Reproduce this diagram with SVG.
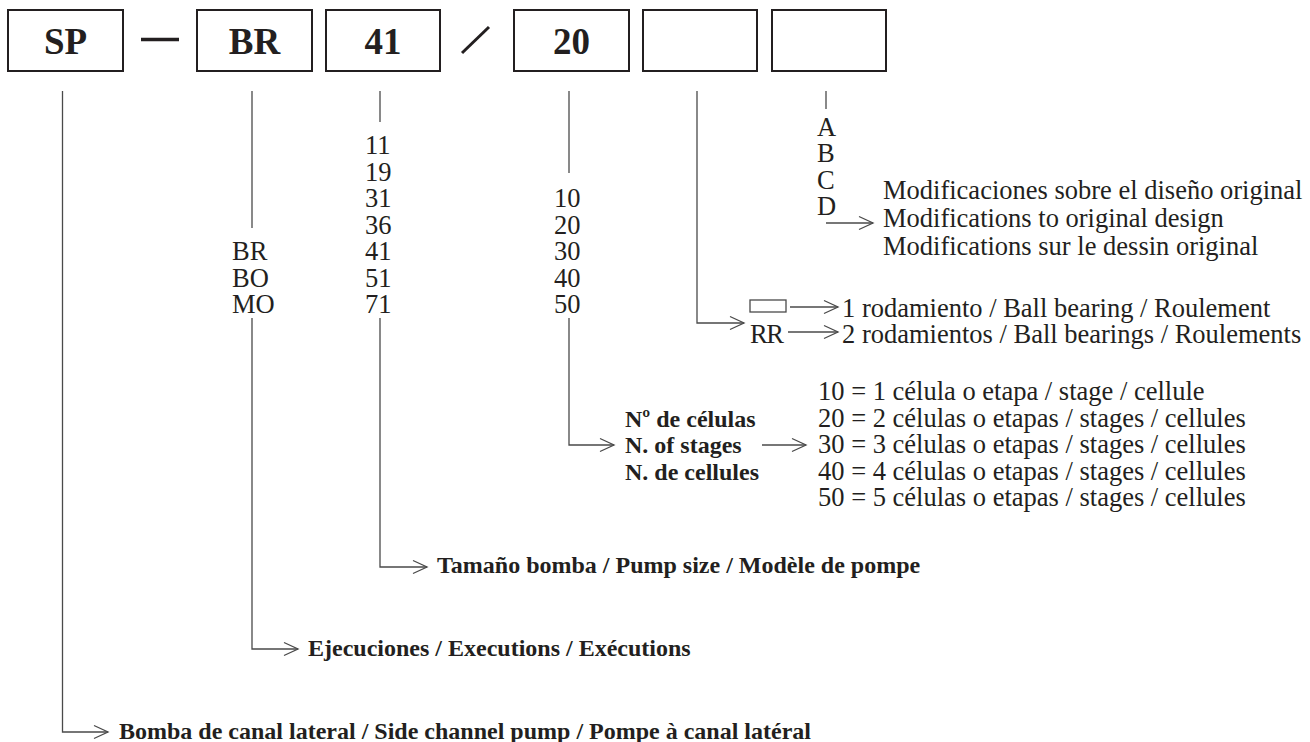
<svg xmlns="http://www.w3.org/2000/svg" width="1310" height="742" viewBox="0 0 1310 742">
<defs>
<style>
.box{fill:#fff;stroke:#231f20;stroke-width:2}
.bt{font-family:"Liberation Serif","Times New Roman",serif;font-weight:bold;font-size:37px;fill:#231f20;text-anchor:middle}
.t{font-family:"Liberation Serif","Times New Roman",serif;font-size:26.5px;fill:#231f20}
.b{font-family:"Liberation Serif","Times New Roman",serif;font-weight:bold;font-size:24px;fill:#231f20}
.ln{fill:none;stroke:#4a4a4a;stroke-width:1.3}
.ar{fill:none;stroke:#4a4a4a;stroke-width:1.3;marker-end:url(#ah)}
</style>
<marker id="ah" markerUnits="userSpaceOnUse" markerWidth="18" markerHeight="16" viewBox="0 0 18 16" refX="16" refY="8" orient="auto">
<path d="M2,1.5 L16,8 L2,14.5" fill="none" stroke="#4a4a4a" stroke-width="1.3"/>
</marker>
</defs>
<rect width="1310" height="742" fill="#fff"/>

<g id="box-sp"><rect class="box" x="8" y="10" width="115" height="61"/><text class="bt" x="65.5" y="54">SP</text></g>
<g id="dash"><line x1="141" y1="39.5" x2="179" y2="39.5" stroke="#231f20" stroke-width="3.5"/></g>
<g id="box-br"><rect class="box" x="197" y="10" width="115" height="61"/><text class="bt" x="254.5" y="54">BR</text></g>
<g id="box-41"><rect class="box" x="326" y="10" width="114" height="61"/><text class="bt" x="383" y="54">41</text></g>
<g id="slash"><line x1="462" y1="53" x2="489" y2="27" stroke="#231f20" stroke-width="3"/></g>
<g id="box-20"><rect class="box" x="514" y="10" width="115" height="61"/><text class="bt" x="571.5" y="54">20</text></g>
<g id="box-6"><rect class="box" x="643" y="10" width="114" height="61"/></g>
<g id="box-7"><rect class="box" x="772" y="10" width="114" height="61"/></g>

<g id="connectors">
<path class="ar" d="M62.5,91 V732 H108"/>
<line class="ln" x1="252" y1="91" x2="252" y2="228"/>
<path class="ar" d="M252,318 V649 H298"/>
<line class="ln" x1="380" y1="91" x2="380" y2="122"/>
<path class="ar" d="M380,318 V567 H427"/>
<line class="ln" x1="569" y1="91" x2="569" y2="173"/>
<path class="ar" d="M569,318 V445 H614"/>
<line class="ar" x1="762" y1="445" x2="806" y2="445"/>
<path class="ar" d="M697,91 V323 H744"/>
<line class="ar" x1="790" y1="307" x2="838" y2="307"/>
<line class="ar" x1="788" y1="332" x2="838" y2="332"/>
<line class="ln" x1="826" y1="91" x2="826" y2="109"/>
<path class="ar" d="M826,223 H873"/>
</g>

<g id="executions">
<text class="t" x="232" y="260">BR</text>
<text class="t" x="232" y="286.5">BO</text>
<text class="t" x="232" y="313">MO</text>
</g>
<g id="sizes">
<text class="t" x="365" y="154">11</text>
<text class="t" x="365" y="180.5">19</text>
<text class="t" x="365" y="207">31</text>
<text class="t" x="365" y="233.5">36</text>
<text class="t" x="365" y="260">41</text>
<text class="t" x="365" y="286.5">51</text>
<text class="t" x="365" y="313">71</text>
</g>
<g id="stages">
<text class="t" x="554" y="207">10</text>
<text class="t" x="554" y="233.5">20</text>
<text class="t" x="554" y="260">30</text>
<text class="t" x="554" y="286.5">40</text>
<text class="t" x="554" y="313">50</text>
</g>
<g id="mods">
<text class="t" x="817" y="136">A</text>
<text class="t" x="817" y="162">B</text>
<text class="t" x="817" y="188.5">C</text>
<text class="t" x="817" y="215">D</text>
</g>
<g id="mods-desc">
<text class="t" x="883" y="199">Modificaciones sobre el diseño original</text>
<text class="t" x="883" y="227">Modifications to original design</text>
<text class="t" x="883" y="255">Modifications sur le dessin original</text>
</g>
<g id="bearings">
<rect x="750" y="300" width="36" height="12" fill="none" stroke="#4a4a4a" stroke-width="1.3"/>
<text class="t" x="842" y="317">1 rodamiento / Ball bearing / Roulement</text>
<text class="t" x="750" y="343" textLength="34">RR</text>
<text class="t" x="842" y="343">2 rodamientos / Ball bearings / Roulements</text>
</g>
<g id="stages-label">
<text class="b" x="625" y="427">Nº de células</text>
<text class="b" x="625" y="453">N. of stages</text>
<text class="b" x="625" y="480">N. de cellules</text>
</g>
<g id="stages-desc">
<text class="t" x="818" y="400">10 = 1 célula o etapa / stage / cellule</text>
<text class="t" x="818" y="427">20 = 2 células o etapas / stages / cellules</text>
<text class="t" x="818" y="453">30 = 3 células o etapas / stages / cellules</text>
<text class="t" x="818" y="480">40 = 4 células o etapas / stages / cellules</text>
<text class="t" x="818" y="506">50 = 5 células o etapas / stages / cellules</text>
</g>
<g id="size-label"><text class="b" x="437" y="573">Tamaño bomba / Pump size / Modèle de pompe</text></g>
<g id="exec-label"><text class="b" x="308" y="656">Ejecuciones / Executions / Exécutions</text></g>
<g id="type-label"><text class="b" x="119" y="739">Bomba de canal lateral / Side channel pump / Pompe à canal latéral</text></g>
</svg>
